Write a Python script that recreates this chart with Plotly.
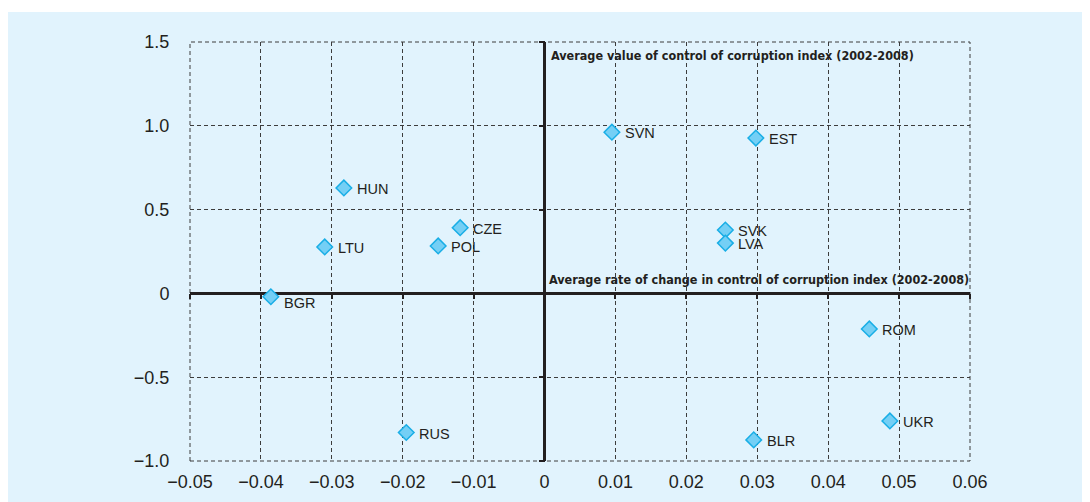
import plotly.graph_objects as go

countries = ["BGR", "LTU", "HUN", "POL", "CZE", "RUS", "SVN", "EST", "SVK", "LVA", "ROM", "UKR", "BLR"]
rate_change = [-0.0386, -0.0310, -0.0283, -0.0150, -0.0119, -0.0195, 0.0095, 0.0298, 0.0255, 0.0255, 0.0458, 0.0487, 0.0295]
avg_value = [-0.02, 0.277, 0.629, 0.283, 0.392, -0.830, 0.962, 0.927, 0.378, 0.300, -0.212, -0.761, -0.874]

x_ticks = [-0.05, -0.04, -0.03, -0.02, -0.01, 0, 0.01, 0.02, 0.03, 0.04, 0.05, 0.06]
x_labels = ["\u22120.05", "\u22120.04", "\u22120.03", "\u22120.02", "\u22120.01", "0",
            "0.01", "0.02", "0.03", "0.04", "0.05", "0.06"]
y_ticks = [-1.0, -0.5, 0, 0.5, 1.0, 1.5]
y_labels = ["\u22121.0", "\u22120.5", "0", "0.5", "1.0", "1.5"]

x_title = "Average rate of change in control of corruption index (2002-2008)"
y_title = "Average value of control of corruption index (2002-2008)"

BG = "#e1f3fd"
INK = "#231f20"
GRID = "#3c3c3c"
XR = [-0.05, 0.06]
YR = [-1.0, 1.5]
LABEL_FONT = dict(family="Liberation Sans, Arial, sans-serif", size=14.5, color=INK)
TITLE_FONT = dict(family="Liberation Sans Narrow, DejaVu Sans Condensed, Arial Narrow, sans-serif",
                  size=12.5, color=INK)

fig = go.Figure()
fig.add_trace(go.Scatter(
    x=rate_change, y=avg_value, mode="markers",
    marker=dict(symbol="diamond", size=12, color="#74cff5",
                line=dict(color="#19aee6", width=1.5)),
    cliponaxis=False, showlegend=False, hoverinfo="skip",
))
# invisible trace for tick-mark overlay axes on the zero lines
fig.add_trace(go.Scatter(x=[None], y=[None], xaxis="x2", yaxis="y2",
                         showlegend=False, hoverinfo="skip"))

annotations = []
for c, xv, yv in zip(countries, rate_change, avg_value):
    annotations.append(dict(text=c, x=xv, y=yv, xref="x", yref="y",
                            xanchor="left", yanchor="middle",
                            xshift=11, yshift=(-6 if c == "BGR" else -1),
                            showarrow=False, font=LABEL_FONT))
annotations += [
    dict(text="<b>" + y_title + "</b>", x=0, y=1.5, xref="x", yref="y",
         xanchor="left", yanchor="top", xshift=4, yshift=-4, showarrow=False,
         font=TITLE_FONT),
    dict(text="<b>" + x_title + "</b>", x=0.06, y=0, xref="x", yref="y",
         xanchor="right", yanchor="bottom", xshift=1, yshift=4, showarrow=False,
         font=TITLE_FONT),
]

tickfont = dict(family="Liberation Sans, Arial, sans-serif", size=18, color=INK)
grid = dict(showgrid=True, gridcolor=GRID, gridwidth=1, griddash="4px,3px")
fig.update_layout(
    width=1090, height=502,
    margin=dict(l=182, r=128, t=34, b=49),
    paper_bgcolor=BG, plot_bgcolor=BG,
    xaxis=dict(range=XR, tickvals=x_ticks, ticktext=x_labels, tickfont=tickfont, **grid,
               zeroline=True, zerolinecolor=INK, zerolinewidth=2.5,
               ticks="outside", ticklen=4, tickcolor="rgba(0,0,0,0)",
               showline=False, fixedrange=True),
    yaxis=dict(range=YR, tickvals=y_ticks, ticktext=y_labels, tickfont=tickfont, **grid,
               zeroline=True, zerolinecolor=INK, zerolinewidth=2.5,
               ticks="outside", ticklen=16, tickcolor="rgba(0,0,0,0)",
               showline=False, fixedrange=True),
    xaxis2=dict(overlaying="x", anchor="free", position=0.4, range=XR, tickvals=x_ticks,
                showticklabels=False, showgrid=False, zeroline=False, showline=False,
                ticks="outside", ticklen=5, tickwidth=2, tickcolor=INK, side="bottom"),
    yaxis2=dict(overlaying="y", anchor="free", position=0.4545, range=YR, tickvals=y_ticks,
                showticklabels=False, showgrid=False, zeroline=False, showline=False,
                ticks="outside", ticklen=6, tickwidth=2, tickcolor=INK, side="left"),
    annotations=annotations,
    shapes=[
        # dashed frame around the plotting area (edge gridlines)
        dict(type="rect", xref="paper", yref="paper", x0=0, x1=1, y0=0, y1=1,
             line=dict(color=GRID, width=1, dash="4px,3px"), layer="below"),
        # thin white strip along the top of the panel
        dict(type="rect", xref="paper", yref="paper", x0=-0.3, x1=1.3, y0=1.0716, y1=1.2,
             fillcolor="white", line=dict(width=0), layer="below"),
    ],
)

fig.write_html("out.html")
